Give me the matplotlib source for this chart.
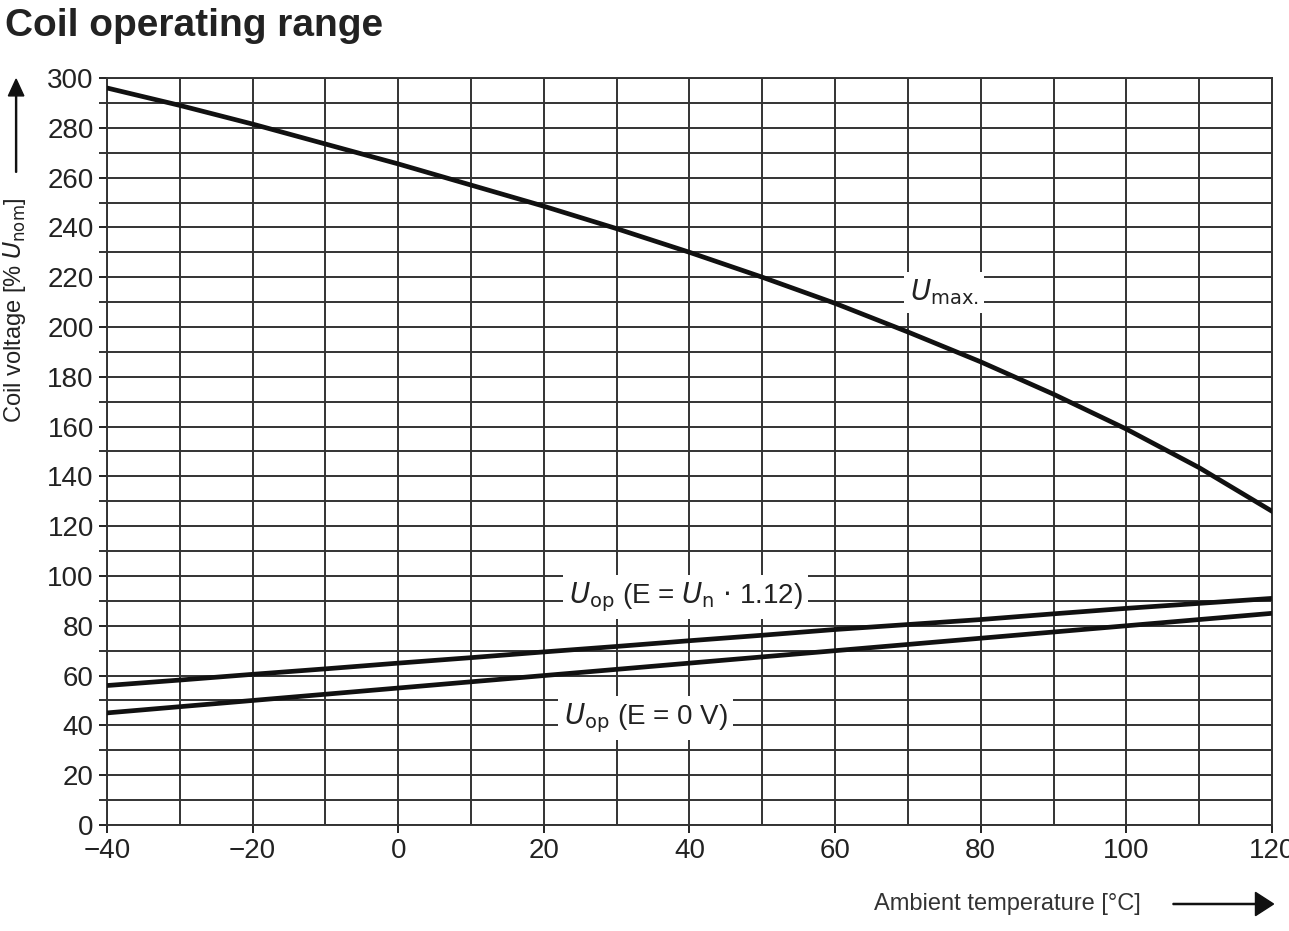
import matplotlib.pyplot as plt
import numpy as np

# Data
temp = [-40, -30, -20, -10, 0, 10, 20, 30, 40, 50, 60, 70, 80, 90, 100, 110, 120]
u_max = [296, 289, 281.5, 273.5, 265.5, 257, 248.5, 239.5, 230, 220, 209.5, 198,
         186, 173, 159, 143.5, 126]
u_op_112 = [56, 58.2, 60.5, 62.7, 65, 67.2, 69.5, 71.7, 74, 76.2, 78.5, 80.5,
            82.5, 84.8, 87, 89, 91]
u_op_0 = [45, 47.5, 50, 52.5, 55, 57.5, 60, 62.5, 65, 67.5, 70, 72.5, 75, 77.5,
          80, 82.5, 85]

x_ticks = [-40, -20, 0, 20, 40, 60, 80, 100, 120]
x_tick_labels = ['\u221240', '\u221220', '0', '20', '40', '60', '80', '100', '120']
y_ticks = list(range(0, 301, 20))

plt.rcParams['font.family'] = ['Liberation Sans Narrow', 'Liberation Sans', 'DejaVu Sans']

fig = plt.figure(figsize=(12.89, 9.31), dpi=100)
ax = fig.add_axes([0.083, 0.1139, 0.9038, 0.8023])

# grid every 10 units
for xv in range(-40, 121, 10):
    ax.axvline(xv, color='#333333', lw=1.4, zorder=1)
for yv in range(0, 301, 10):
    ax.axhline(yv, color='#333333', lw=1.4, zorder=1)

ax.plot(temp, u_max, color='#111111', lw=3.4, zorder=3, solid_joinstyle='round')
ax.plot(temp, u_op_112, color='#111111', lw=3.4, zorder=3, solid_joinstyle='round')
ax.plot(temp, u_op_0, color='#111111', lw=3.4, zorder=3, solid_joinstyle='round')

box = dict(facecolor='white', edgecolor='none', pad=4)
ax.text(75, 214, r'$U_{\rm max.}$', fontsize=20, ha='center', va='center',
        color='#222222', bbox=box, zorder=4)
ax.text(39.5, 91.5, r'$U_{\rm op}$ (E = $U_{\rm n}$ $\cdot$ 1.12)', fontsize=20,
        ha='center', va='center', color='#222222', bbox=box, zorder=4)
ax.text(34, 43, r'$U_{\rm op}$ (E = 0 V)', fontsize=20, ha='center', va='center',
        color='#222222', bbox=box, zorder=4)

ax.set_xlim(-40, 120)
ax.set_ylim(0, 300)
ax.set_xticks(x_ticks)
ax.set_xticklabels(x_tick_labels)
ax.set_yticks(y_ticks)
ax.set_yticks(range(0, 301, 10), minor=True)
ax.tick_params(axis='both', labelsize=20, colors='#222222', length=6, width=1.4, direction='out')
ax.tick_params(axis='y', which='minor', length=6, width=1.4, color='#333333')
for s in ax.spines.values():
    s.set_color('#333333')
    s.set_linewidth(1.4)

fig.text(0.004, 0.972, 'Coil operating range', fontsize=28, fontweight='bold',
         family=['Liberation Sans', 'DejaVu Sans'], color='#222222', va='center')

# y axis label with arrow
fig.text(0.011, 0.667, r'Coil voltage [% $U_{\rm nom}$]', rotation=90, fontsize=17,
         ha='center', va='center', color='#222222')
fig.patches.append(plt.matplotlib.patches.FancyArrow(
    0.0125, 0.815, 0, 0.1, width=0.0008, head_width=0.012, head_length=0.018,
    length_includes_head=True, color='#111111', transform=fig.transFigure))

# x axis label with arrow
fig.text(0.885, 0.029, 'Ambient temperature [\u00b0C]', fontsize=17, ha='right',
         va='center', color='#333333')
fig.patches.append(plt.matplotlib.patches.FancyArrow(
    0.91, 0.029, 0.078, 0, width=0.0012, head_width=0.025, head_length=0.014,
    length_includes_head=True, color='#111111', transform=fig.transFigure))

fig.savefig('out.png', dpi=100)
